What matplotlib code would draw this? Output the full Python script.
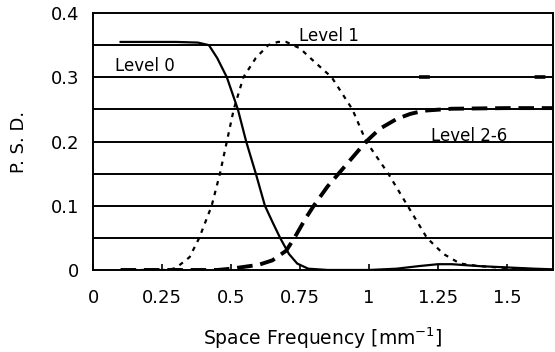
import numpy as np
import matplotlib.pyplot as plt

plt.rcParams['font.family'] = ['DejaVu Sans']

# Level 0 (trait plein)
x_l0 = [0.1, 0.2, 0.3, 0.38, 0.42, 0.45, 0.485, 0.525, 0.555, 0.59, 0.623, 0.65, 0.678, 0.71, 0.74, 0.78,
        0.85, 1.0, 1.1, 1.18, 1.25, 1.3, 1.4, 1.5, 1.6, 1.67]
y_l0 = [0.355, 0.355, 0.355, 0.354, 0.35, 0.33, 0.30, 0.25, 0.20, 0.15, 0.10, 0.075, 0.05, 0.025, 0.01, 0.002,
        0.0, 0.0, 0.002, 0.006, 0.009, 0.009, 0.006, 0.004, 0.002, 0.001]

# Level 1 (pointillé)
x_l1 = [0.1, 0.27, 0.3, 0.35, 0.385, 0.43, 0.46, 0.485, 0.51, 0.545, 0.59, 0.635, 0.67, 0.70, 0.75, 0.8,
        0.865, 0.94, 0.99, 1.07, 1.14, 1.21, 1.27, 1.33, 1.4, 1.5, 1.6, 1.67]
y_l1 = [0.0, 0.0, 0.003, 0.02, 0.05, 0.10, 0.15, 0.20, 0.25, 0.30, 0.33, 0.35, 0.355, 0.355, 0.345, 0.325,
        0.30, 0.25, 0.20, 0.15, 0.10, 0.05, 0.025, 0.01, 0.006, 0.003, 0.001, 0.0]

# Level 2-6 (tirets épais)
x_l26 = [0.1, 0.45, 0.5, 0.6, 0.65, 0.7, 0.73, 0.77, 0.80, 0.85, 0.9, 0.95, 0.99, 1.04, 1.1, 1.15, 1.2,
         1.3, 1.5, 1.67]
y_l26 = [0.0, 0.0, 0.002, 0.008, 0.015, 0.03, 0.05, 0.08, 0.10, 0.13, 0.155, 0.18, 0.20, 0.22, 0.235,
         0.243, 0.248, 0.251, 0.252, 0.252]

# tirets cachés sous la grille à 0.3
x_hi = [1.18, 1.67]
y_hi = [0.301, 0.301]

fig = plt.figure(figsize=(5.55, 3.52), dpi=100)
ax = fig.add_axes([0.1676, 0.233, 0.8288, 0.730])

for y in np.arange(0.05, 0.4, 0.05):
    ax.axhline(y, color='black', lw=1.4, zorder=1)

ax.plot(x_l0, y_l0, color='black', lw=1.6, zorder=3)
ax.plot(x_l1, y_l1, color='black', lw=1.6, dashes=(2, 2.5), zorder=3)
ax.plot(x_l26, y_l26, color='black', lw=2.8, dashes=(4, 2), zorder=3)
ax.plot(x_hi, y_hi, color='black', lw=2.6, dashes=(3, 29), zorder=2)

ax.text(0.08, 0.309, 'Level 0', fontsize=12)
ax.text(0.745, 0.356, 'Level 1', fontsize=12)
ax.text(1.225, 0.201, 'Level 2-6', fontsize=12)

ax.set_xlim(0, 1.667)
ax.set_ylim(0, 0.4)
ax.set_xticks([0, 0.25, 0.5, 0.75, 1, 1.25, 1.5])
ax.set_xticklabels(['0', '0.25', '0.5', '0.75', '1', '1.25', '1.5'])
ax.set_yticks([0, 0.1, 0.2, 0.3, 0.4])
ax.set_yticklabels(['0', '0.1', '0.2', '0.3', '0.4'])
ax.tick_params(axis='x', direction='in', length=4, width=1.2, pad=14, labelsize=13)
ax.tick_params(axis='y', length=0, pad=10, labelsize=13)
for s in ax.spines.values():
    s.set_linewidth(1.4)

ax.set_xlabel('Space Frequency [mm$^{-1}$]', fontsize=13.5, labelpad=13)
ax.set_ylabel('P. S. D.', fontsize=13, labelpad=16)

fig.savefig('out.png', dpi=100)
